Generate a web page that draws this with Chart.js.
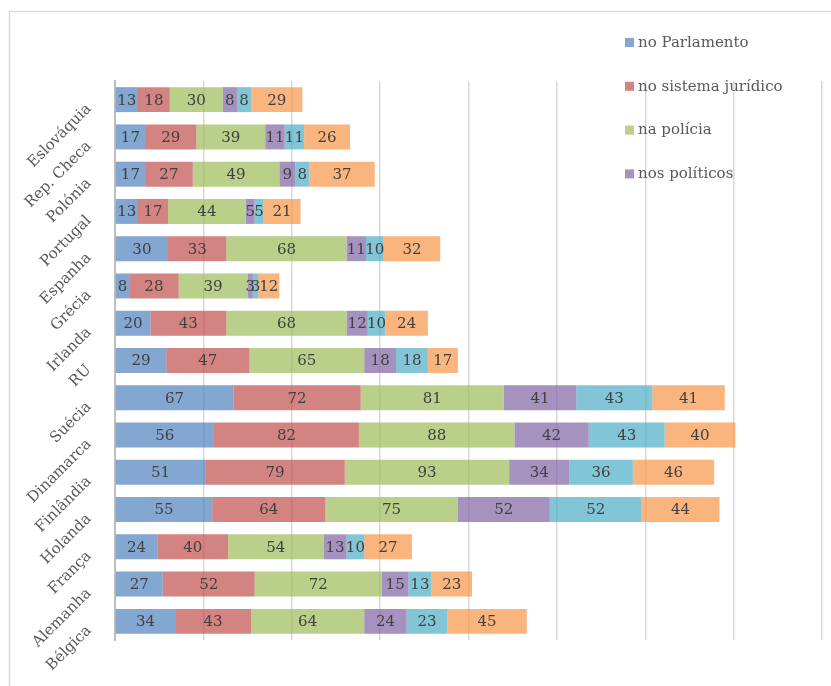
<!DOCTYPE html>
<html>
<head>
<meta charset="utf-8">
<script src="https://cdn.jsdelivr.net/npm/chart.js@4/dist/chart.umd.min.js"></script>
<style>
  html, body { margin: 0; padding: 0; background: #ffffff; }
  #wrap { width: 831px; height: 686px; position: relative; }
</style>
</head>
<body>
<div id="wrap"><canvas id="chart" width="831" height="686"></canvas></div>
<script>
// Countries, top to bottom
const countries = ['Eslováquia', 'Rep. Checa', 'Polónia', 'Portugal', 'Espanha', 'Grécia', 'Irlanda', 'RU',
  'Suécia', 'Dinamarca', 'Finlândia', 'Holanda', 'França', 'Alemanha', 'Bélgica'];

// Series names (the legend lists the first four)
const seriesNames = ['no Parlamento', 'no sistema jurídico', 'na polícia', 'nos políticos',
  'nos partidos políticos', 'no Parlamento Europeu'];

// Trust values per series, in country order
const noParlamento      = [13, 17, 17, 13, 30,  8, 20, 29, 67, 56, 51, 55, 24, 27, 34];
const noSistemaJuridico = [18, 29, 27, 17, 33, 28, 43, 47, 72, 82, 79, 64, 40, 52, 43];
const naPolicia         = [30, 39, 49, 44, 68, 39, 68, 65, 81, 88, 93, 75, 54, 72, 64];
const nosPoliticos      = [ 8, 11,  9,  5, 11,  3, 12, 18, 41, 42, 34, 52, 13, 15, 24];
const nosPartidos       = [ 8, 11,  8,  5, 10,  3, 10, 18, 43, 43, 36, 52, 10, 13, 23];
const noParlEuropeu     = [29, 26, 37, 21, 32, 12, 24, 17, 41, 40, 46, 44, 27, 23, 45];

// Value axis
const axisMin = 0;
const axisMax = 400;
const axisStep = 50;

const seriesValues = [noParlamento, noSistemaJuridico, naPolicia, nosPoliticos, nosPartidos, noParlEuropeu];
const seriesColors = [
  'rgba(79, 129, 189, 0.70)',
  'rgba(192, 80, 77, 0.70)',
  'rgba(155, 187, 89, 0.70)',
  'rgba(128, 100, 162, 0.70)',
  'rgba(75, 172, 198, 0.70)',
  'rgba(247, 150, 70, 0.70)'
];
const legendCount = 4;

const SERIF = '"DejaVu Serif", "Liberation Serif", serif';

// Outer frame of the chart object
const framePlugin = {
  id: 'frame',
  beforeDraw(chart) {
    const ctx = chart.ctx;
    ctx.save();
    ctx.strokeStyle = '#d9d9d9';
    ctx.lineWidth = 1.5;
    ctx.beginPath();
    ctx.moveTo(9.5, chart.height);
    ctx.lineTo(9.5, 11.5);
    ctx.lineTo(chart.width, 11.5);
    ctx.stroke();
    ctx.restore();
  }
};

// Country names, slanted at 45 degrees, ending just left of the axis
const slantedCategoryLabels = {
  id: 'slantedCategoryLabels',
  afterDraw(chart) {
    const yScale = chart.scales.y;
    const ctx = chart.ctx;
    ctx.save();
    ctx.font = '15px ' + SERIF;
    ctx.fillStyle = '#595959';
    ctx.textAlign = 'right';
    ctx.textBaseline = 'middle';
    chart.data.labels.forEach((name, i) => {
      const y = yScale.getPixelForTick(i);
      ctx.save();
      ctx.translate(yScale.right - 26, y + 7);
      ctx.rotate(-Math.PI / 4);
      ctx.fillText(name, 0, 0);
      ctx.restore();
    });
    ctx.restore();
  }
};

// Value written in the middle of every bar segment
const segmentLabels = {
  id: 'segmentLabels',
  afterDatasetsDraw(chart) {
    const ctx = chart.ctx;
    ctx.save();
    ctx.font = '15px ' + SERIF;
    ctx.fillStyle = '#404040';
    ctx.textAlign = 'center';
    ctx.textBaseline = 'middle';
    chart.data.datasets.forEach((ds, i) => {
      const meta = chart.getDatasetMeta(i);
      meta.data.forEach((bar, j) => {
        const cx = (bar.x + bar.base) / 2;
        ctx.fillText(String(ds.data[j]), cx, bar.y + 1);
      });
    });
    ctx.restore();
  }
};

// Legend at the upper right, first four series, one per row
const sideLegend = {
  id: 'sideLegend',
  afterDraw(chart) {
    const ctx = chart.ctx;
    ctx.save();
    ctx.font = '15px ' + SERIF;
    ctx.textAlign = 'left';
    ctx.textBaseline = 'middle';
    for (let i = 0; i < legendCount; i++) {
      const y = 43 + i * 43.8;
      ctx.fillStyle = seriesColors[i];
      ctx.fillRect(625, y - 5, 9, 9);
      ctx.fillStyle = '#595959';
      ctx.fillText(seriesNames[i], 638, y);
    }
    ctx.restore();
  }
};

new Chart(document.getElementById('chart'), {
  type: 'bar',
  data: {
    labels: countries,
    datasets: seriesValues.map((vals, i) => ({
      label: seriesNames[i],
      data: vals,
      backgroundColor: seriesColors[i],
      borderWidth: 0,
      categoryPercentage: 1.0,
      barPercentage: 0.67
    }))
  },
  options: {
    indexAxis: 'y',
    responsive: false,
    animation: false,
    layout: { padding: { top: 81, right: 9, bottom: 46, left: 0 } },
    plugins: {
      legend: { display: false },
      tooltip: { enabled: false },
      title: { display: false }
    },
    scales: {
      x: {
        stacked: true,
        min: axisMin,
        max: axisMax,
        ticks: { display: false, stepSize: axisStep },
        grid: { color: '#d9d9d9', lineWidth: 1.5, drawTicks: false },
        border: { display: false },
        afterFit(scale) { scale.height = 0; }
      },
      y: {
        stacked: true,
        ticks: { display: false },
        grid: { display: false, drawTicks: false },
        border: { display: true, color: '#bfbfbf', width: 2 },
        afterFit(scale) { scale.width = 115; }
      }
    }
  },
  plugins: [framePlugin, slantedCategoryLabels, segmentLabels, sideLegend]
});
</script>
</body>
</html>
